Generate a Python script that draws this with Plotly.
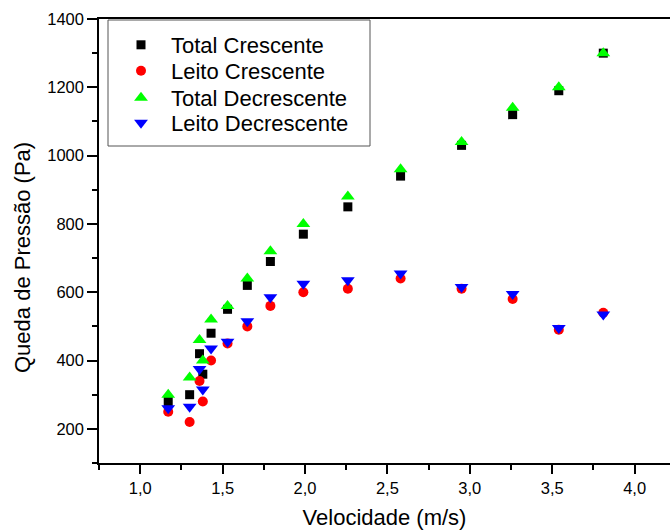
import plotly.graph_objects as go

# Data
velocidade = [1.17, 1.30, 1.36, 1.38, 1.43, 1.53, 1.65, 1.79, 1.99, 2.26, 2.58, 2.95, 3.26, 3.54, 3.81]
total_crescente = [280, 300, 420, 360, 480, 550, 620, 690, 770, 850, 940, 1030, 1120, 1190, 1300]
leito_crescente = [250, 220, 340, 280, 400, 450, 500, 560, 600, 610, 640, 610, 580, 490, 540]
total_decrescente = [300, 350, 460, 400, 520, 560, 640, 720, 800, 880, 960, 1040, 1140, 1200, 1300]
leito_decrescente = [260, 265, 375, 315, 435, 455, 515, 585, 625, 635, 655, 615, 595, 495, 535]

series_names = ["Total Crescente", "Leito Crescente", "Total Decrescente", "Leito Decrescente"]

x_tickvals = [1.0, 1.5, 2.0, 2.5, 3.0, 3.5, 4.0]
x_ticktext = ["1,0", "1,5", "2,0", "2,5", "3,0", "3,5", "4,0"]
y_tickvals = [200, 400, 600, 800, 1000, 1200, 1400]
y_ticktext = ["200", "400", "600", "800", "1000", "1200", "1400"]

FONT = "Liberation Sans, Arial, sans-serif"

W, H = 670, 530
ML, MR, MT, MB = 99, 0, 19, 67
PW, PH = W - ML - MR, H - MT - MB


def px_x(px):
    return (px - ML) / PW


def px_y(py):
    return (H - MB - py) / PH


styles = [
    dict(symbol="square", size=9, color="#000000"),
    dict(symbol="circle", size=10, color="#ff0000"),
    dict(symbol="triangle-up", size=12, color="#00ff00"),
    dict(symbol="triangle-down", size=12, color="#0000ff"),
]
values = [total_crescente, leito_crescente, total_decrescente, leito_decrescente]
legend_ids = ["legend", "legend2", "legend3", "legend4"]
row_centers = [45, 71, 98, 123]

fig = go.Figure()
for name, vals, st, lid in zip(series_names, values, styles, legend_ids):
    fig.add_trace(go.Scatter(x=velocidade, y=vals, mode="markers", name=name,
                             marker=st, legend=lid, showlegend=True))

legend_layout = {}
for lid, yc in zip(legend_ids, row_centers):
    legend_layout[lid] = dict(x=px_x(111), y=px_y(yc), xanchor="left", yanchor="middle",
                              borderwidth=0, bgcolor="rgba(0,0,0,0)",
                              font=dict(size=22, family=FONT, color="black"), itemwidth=50)

fig.update_layout(
    width=W, height=H,
    showlegend=True,
    margin=dict(l=ML, r=MR, t=MT, b=MB),
    paper_bgcolor="white", plot_bgcolor="white",
    font=dict(family=FONT, color="black"),
    xaxis=dict(range=[0.75, 0.75 + PW / 164.8], showline=True, linecolor="black", linewidth=1.5,
               mirror=True, showgrid=False, zeroline=False, automargin=False,
               ticks="outside", ticklen=9, tickwidth=1.5, tickcolor="black",
               tickvals=x_tickvals, ticktext=x_ticktext,
               tickfont=dict(size=16.5),
               minor=dict(dtick=0.25, tick0=0.75, ticks="outside", ticklen=5, tickwidth=1.5, tickcolor="black"),
               title=dict(text="Velocidade (m/s)", font=dict(size=22), standoff=18)),
    yaxis=dict(range=[100, 1400], showline=True, linecolor="black", linewidth=1.5,
               showgrid=False, zeroline=False, automargin=False,
               ticks="outside", ticklen=10, tickwidth=1.5, tickcolor="black",
               tickvals=y_tickvals, ticktext=y_ticktext,
               tickfont=dict(size=16.5),
               minor=dict(dtick=100, tick0=100, ticks="outside", ticklen=5, tickwidth=1.5, tickcolor="black")),
    annotations=[dict(text="Queda de Pressão (Pa)", xref="paper", yref="paper",
                      x=px_x(22), y=px_y(258), xanchor="center", yanchor="middle",
                      textangle=-90, showarrow=False, font=dict(size=22, family=FONT, color="black"))],
    shapes=[dict(type="rect", xref="paper", yref="paper",
                 x0=px_x(108), x1=px_x(370), y0=px_y(146), y1=px_y(20),
                 line=dict(color="#555555", width=1))],
    **legend_layout,
)

fig.write_html("out.html",
               config={"displayModeBar": False},
               post_script="document.body.style.margin='0';document.body.style.overflow='hidden';")
